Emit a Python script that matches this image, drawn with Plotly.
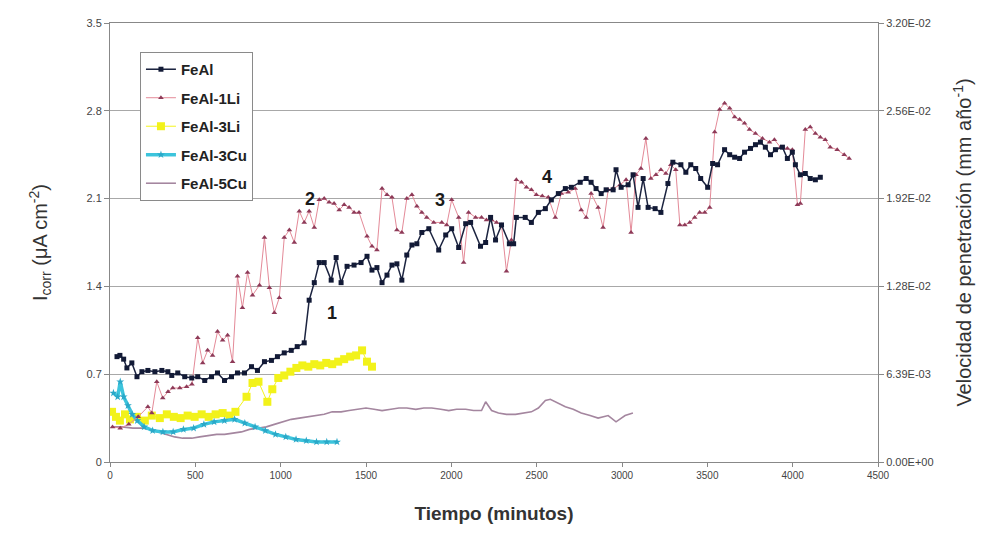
import plotly.graph_objects as go

# ---- FeAl ----
feal_t = [41, 58, 80, 99, 128, 158, 187, 222, 263, 304, 339, 362, 397, 438, 479, 514, 555, 595,
          630, 671, 712, 747, 788, 829, 864, 905, 946, 981, 1021, 1062, 1097, 1138, 1167, 1197,
          1226, 1255, 1296, 1325, 1354, 1389, 1430, 1471, 1506, 1535, 1564, 1594, 1623, 1652,
          1681, 1710, 1739, 1769, 1798, 1827, 1868, 1926, 1967, 2002, 2043, 2084, 2113, 2171,
          2201, 2230, 2259, 2294, 2340, 2365, 2381, 2433, 2469, 2510, 2551, 2586, 2627, 2668,
          2703, 2755, 2790, 2819, 2848, 2878, 2907, 2948, 2965, 2995, 3036, 3065, 3094, 3124,
          3153, 3194, 3228, 3269, 3298, 3345, 3374, 3403, 3432, 3461, 3502, 3531, 3560, 3601,
          3631, 3660, 3689, 3718, 3753, 3782, 3811, 3840, 3870, 3899, 3940, 3969, 3998, 4016,
          4045, 4074, 4103, 4133, 4162]
feal_i = [0.84, 0.85, 0.82, 0.75, 0.79, 0.68, 0.72, 0.73, 0.72, 0.73, 0.72, 0.69, 0.71, 0.68,
          0.67, 0.68, 0.65, 0.68, 0.71, 0.65, 0.68, 0.71, 0.71, 0.76, 0.73, 0.80, 0.81, 0.84,
          0.87, 0.89, 0.92, 0.95, 1.29, 1.43, 1.59, 1.59, 1.45, 1.63, 1.43, 1.56, 1.57, 1.59,
          1.64, 1.53, 1.55, 1.43, 1.49, 1.57, 1.58, 1.45, 1.65, 1.73, 1.74, 1.83, 1.86, 1.69,
          1.81, 1.86, 1.71, 1.90, 1.91, 1.72, 1.75, 1.95, 1.77, 1.89, 1.74, 1.74, 1.95, 1.95,
          1.91, 1.99, 2.02, 2.09, 2.14, 2.18, 2.19, 2.23, 2.26, 2.23, 2.18, 2.14, 2.17, 2.17,
          2.33, 2.19, 2.21, 2.29, 2.03, 2.26, 2.03, 2.02, 1.99, 2.22, 2.39, 2.37, 2.31, 2.37,
          2.34, 2.26, 2.19, 2.38, 2.37, 2.49, 2.45, 2.43, 2.42, 2.47, 2.50, 2.53, 2.55, 2.51,
          2.45, 2.49, 2.51, 2.42, 2.47, 2.37, 2.29, 2.30, 2.26, 2.25, 2.27]

# ---- FeAl-1Li ----
li1_t = [15, 60, 110, 165, 222, 245, 274, 309, 340, 368, 409, 449, 480, 514, 543, 572, 601,
         630, 660, 689, 718, 747, 776, 806, 835, 876, 905, 934, 963, 992, 1021, 1051, 1080,
         1109, 1138, 1167, 1197, 1226, 1255, 1284, 1313, 1343, 1372, 1401, 1430, 1459, 1506,
         1535, 1564, 1594, 1623, 1652, 1681, 1710, 1739, 1769, 1798, 1827, 1856, 1897, 1944,
         1973, 2002, 2043, 2072, 2101, 2142, 2177, 2206, 2236, 2265, 2294, 2323, 2352, 2381,
         2411, 2440, 2469, 2498, 2533, 2568, 2609, 2644, 2685, 2726, 2761, 2790, 2819, 2860,
         2889, 2919, 2948, 2989, 3024, 3053, 3082, 3111, 3140, 3169, 3199, 3228, 3257, 3286,
         3315, 3339, 3368, 3397, 3426, 3455, 3485, 3514, 3543, 3572, 3601, 3631, 3660, 3689,
         3718, 3747, 3782, 3823, 3864, 3893, 3928, 3969, 3998, 4028, 4045, 4074, 4103, 4133,
         4162, 4191, 4220, 4261, 4302, 4331]
li1_i = [0.28, 0.27, 0.30, 0.36, 0.44, 0.39, 0.64, 0.51, 0.56, 0.59, 0.59, 0.60, 0.62, 0.99,
         0.79, 0.89, 0.85, 1.04, 0.97, 1.01, 0.80, 1.48, 1.23, 1.51, 1.33, 1.41, 1.79, 1.39,
         1.19, 1.31, 1.79, 1.85, 1.75, 2.00, 1.91, 2.00, 1.87, 2.09, 2.10, 2.07, 2.06, 2.01,
         2.05, 2.03, 1.99, 1.99, 1.80, 1.72, 1.69, 2.18, 2.13, 2.11, 1.85, 1.83, 2.10, 2.13,
         2.04, 1.99, 1.95, 1.91, 1.91, 1.89, 2.09, 1.95, 1.59, 1.99, 1.95, 1.95, 1.93, 1.93,
         1.91, 1.89, 1.52, 1.77, 2.25, 2.23, 2.19, 2.17, 2.13, 2.12, 2.11, 1.95, 2.14, 2.15,
         2.18, 2.01, 1.95, 2.14, 2.03, 1.87, 2.17, 2.18, 2.21, 2.25, 1.83, 2.29, 2.34, 2.58,
         2.26, 2.29, 2.33, 2.30, 2.37, 2.33, 1.89, 1.89, 1.91, 1.95, 1.99, 1.99, 2.03, 2.63,
         2.81, 2.86, 2.82, 2.75, 2.73, 2.70, 2.65, 2.62, 2.58, 2.55, 2.57, 2.51, 2.50, 2.49,
         2.05, 2.06, 2.65, 2.67, 2.62, 2.59, 2.57, 2.51, 2.49, 2.45, 2.42]

# ---- FeAl-3Li ----
li3_t = [12, 35, 58, 88, 117, 158, 204, 245, 292, 333, 374, 414, 455, 496, 537, 578, 619,
         660, 700, 735, 800, 835, 870, 922, 951, 986, 1021, 1057, 1092, 1127, 1162, 1197,
         1232, 1267, 1302, 1337, 1372, 1407, 1442, 1477, 1506, 1535]
li3_i = [0.40, 0.36, 0.33, 0.38, 0.34, 0.36, 0.33, 0.37, 0.35, 0.38, 0.36, 0.35, 0.37, 0.36,
         0.38, 0.36, 0.38, 0.39, 0.37, 0.40, 0.52, 0.63, 0.64, 0.48, 0.58, 0.67, 0.69, 0.72,
         0.75, 0.77, 0.76, 0.78, 0.77, 0.79, 0.78, 0.80, 0.82, 0.84, 0.85, 0.89, 0.80, 0.76]

# ---- FeAl-3Cu ----
cu3_t = [20, 45, 60, 80, 105, 130, 160, 200, 250, 310, 370, 430, 490, 550, 610, 670, 730,
         790, 850, 910, 970, 1030, 1090, 1150, 1210, 1270, 1330]
cu3_i = [0.55, 0.52, 0.64, 0.52, 0.45, 0.38, 0.33, 0.28, 0.25, 0.24, 0.24, 0.26, 0.27, 0.30,
         0.32, 0.33, 0.34, 0.31, 0.28, 0.25, 0.22, 0.20, 0.18, 0.17, 0.16, 0.16, 0.16]

# ---- FeAl-5Cu ----
cu5_t = [12, 70, 134, 193, 233, 280, 333, 379, 426, 479, 525, 572, 625, 671, 718, 770, 817,
         864, 916, 963, 1010, 1062, 1109, 1156, 1208, 1255, 1302, 1354, 1401, 1448, 1500,
         1547, 1594, 1646, 1693, 1739, 1792, 1839, 1885, 1938, 1985, 2031, 2084, 2130, 2177,
         2201, 2236, 2276, 2323, 2376, 2422, 2469, 2510, 2551, 2580, 2609, 2638, 2668, 2714,
         2761, 2813, 2860, 2919, 2965, 3018, 3064]
cu5_i = [0.28, 0.28, 0.27, 0.27, 0.26, 0.24, 0.22, 0.20, 0.19, 0.19, 0.20, 0.21, 0.22, 0.22,
         0.23, 0.24, 0.26, 0.27, 0.28, 0.30, 0.32, 0.34, 0.35, 0.36, 0.37, 0.38, 0.40, 0.40,
         0.41, 0.42, 0.43, 0.42, 0.41, 0.42, 0.43, 0.43, 0.42, 0.43, 0.43, 0.42, 0.41, 0.42,
         0.42, 0.41, 0.41, 0.48, 0.41, 0.39, 0.38, 0.38, 0.39, 0.40, 0.43, 0.49, 0.50, 0.48,
         0.46, 0.44, 0.42, 0.39, 0.37, 0.35, 0.37, 0.32, 0.37, 0.39]

y_ticks = [0, 0.7, 1.4, 2.1, 2.8, 3.5]
y_ticklabels = ["0", "0.7", "1.4", "2.1", "2.8", "3.5"]
rate_ticks = [0, 0.0064, 0.0128, 0.0192, 0.0256, 0.032]
rate_ticklabels = ["0.00E+00", "6.39E-03", "1.28E-02", "1.92E-02", "2.56E-02", "3.20E-02"]
x_ticks = [0, 500, 1000, 1500, 2000, 2500, 3000, 3500, 4000, 4500]

# Labels for the stages of the FeAl curves
stage_labels = ["1", "2", "3", "4"]
stage_t = [1302, 1173, 1934, 2563]
stage_i = [1.19, 2.10, 2.09, 2.27]

FONT = "Liberation Sans, Arial, sans-serif"

fig = go.Figure()

fig.add_trace(go.Scatter(
    x=cu5_t, y=cu5_i, name="<b>FeAl-5Cu</b>", mode="lines",
    line=dict(color="#a4869f", width=1.6), legendgroup="e", legendrank=5))
fig.add_trace(go.Scatter(
    x=li3_t, y=li3_i, name="<b>FeAl-3Li</b>", mode="lines+markers",
    line=dict(color="#f4f41c", width=1),
    marker=dict(symbol="square", size=8, color="#f2f21a"), legendgroup="c", legendrank=3))
fig.add_trace(go.Scatter(
    x=cu3_t, y=cu3_i, name="<b>FeAl-3Cu</b>", mode="lines+markers",
    line=dict(color="#3cc4dc", width=3.5),
    marker=dict(symbol="star", size=6, color="#2aa8c8"), legendgroup="d", legendrank=4))
fig.add_trace(go.Scatter(
    x=li1_t, y=li1_i, name="<b>FeAl-1Li</b>", mode="lines+markers",
    line=dict(color="#e48a98", width=1),
    marker=dict(symbol="triangle-up", size=5, color="#8e3a58"), legendgroup="b", legendrank=2))
fig.add_trace(go.Scatter(
    x=feal_t, y=feal_i, name="<b>FeAl</b>", mode="lines+markers",
    line=dict(color="#1c2440", width=1.5),
    marker=dict(symbol="square", size=5, color="#121a36"), legendgroup="a", legendrank=1))

# secondary axis carrying the penetration-rate scale
fig.add_trace(go.Scatter(x=[None], y=[None], yaxis="y2", showlegend=False, hoverinfo="skip"))

for lab, t, v in zip(stage_labels, stage_t, stage_i):
    fig.add_annotation(x=t, y=v, text=f"<b>{lab}</b>", showarrow=False,
                       font=dict(family=FONT, size=18, color="#1a1a1a"))

fig.update_layout(
    width=984, height=534,
    margin=dict(l=110, r=103, t=23, b=72),
    paper_bgcolor="white", plot_bgcolor="white",
    font=dict(family=FONT, color="#333"),
    showlegend=True,
    legend=dict(
        x=0.039, y=0.934, xanchor="left", yanchor="top",
        bgcolor="white", bordercolor="#8a8a8a", borderwidth=1,
        font=dict(family=FONT, size=15, color="#222"),
        traceorder="grouped", tracegroupgap=6, itemwidth=30,
    ),
    xaxis=dict(
        range=[0, 4500], tickvals=x_ticks, ticks="outside", ticklen=4,
        tickcolor="#888", showline=True, linecolor="#888", linewidth=1, mirror=True,
        showgrid=False, zeroline=False,
        tickfont=dict(size=10, color="#444"),
        title=dict(text="<b>Tiempo (minutos)</b>", font=dict(size=19, color="#333"), standoff=26),
    ),
    yaxis=dict(
        range=[0, 3.5], tickvals=y_ticks, ticktext=y_ticklabels, ticks="outside",
        ticklen=5, tickcolor="#888", showline=True, linecolor="#888", linewidth=1,
        showgrid=True, gridcolor="#a8a8a8", gridwidth=1, zeroline=False,
        tickfont=dict(size=11, color="#444"),
        title=dict(text="I<sub>corr</sub> (μA cm<sup>-2</sup>)",
                   font=dict(size=20, color="#333"), standoff=33),
    ),
    yaxis2=dict(
        overlaying="y", side="right", range=[0, 0.032],
        tickvals=rate_ticks, ticktext=rate_ticklabels, ticks="outside", ticklen=5,
        tickcolor="#888", showline=True, linecolor="#888", linewidth=1,
        showgrid=False, zeroline=False,
        tickfont=dict(size=11, color="#444"),
        title=dict(text="Velocidad de penetración (mm año<sup>-1</sup>)",
                   font=dict(size=20, color="#333"), standoff=24),
    ),
)

fig.write_html("out.html")
